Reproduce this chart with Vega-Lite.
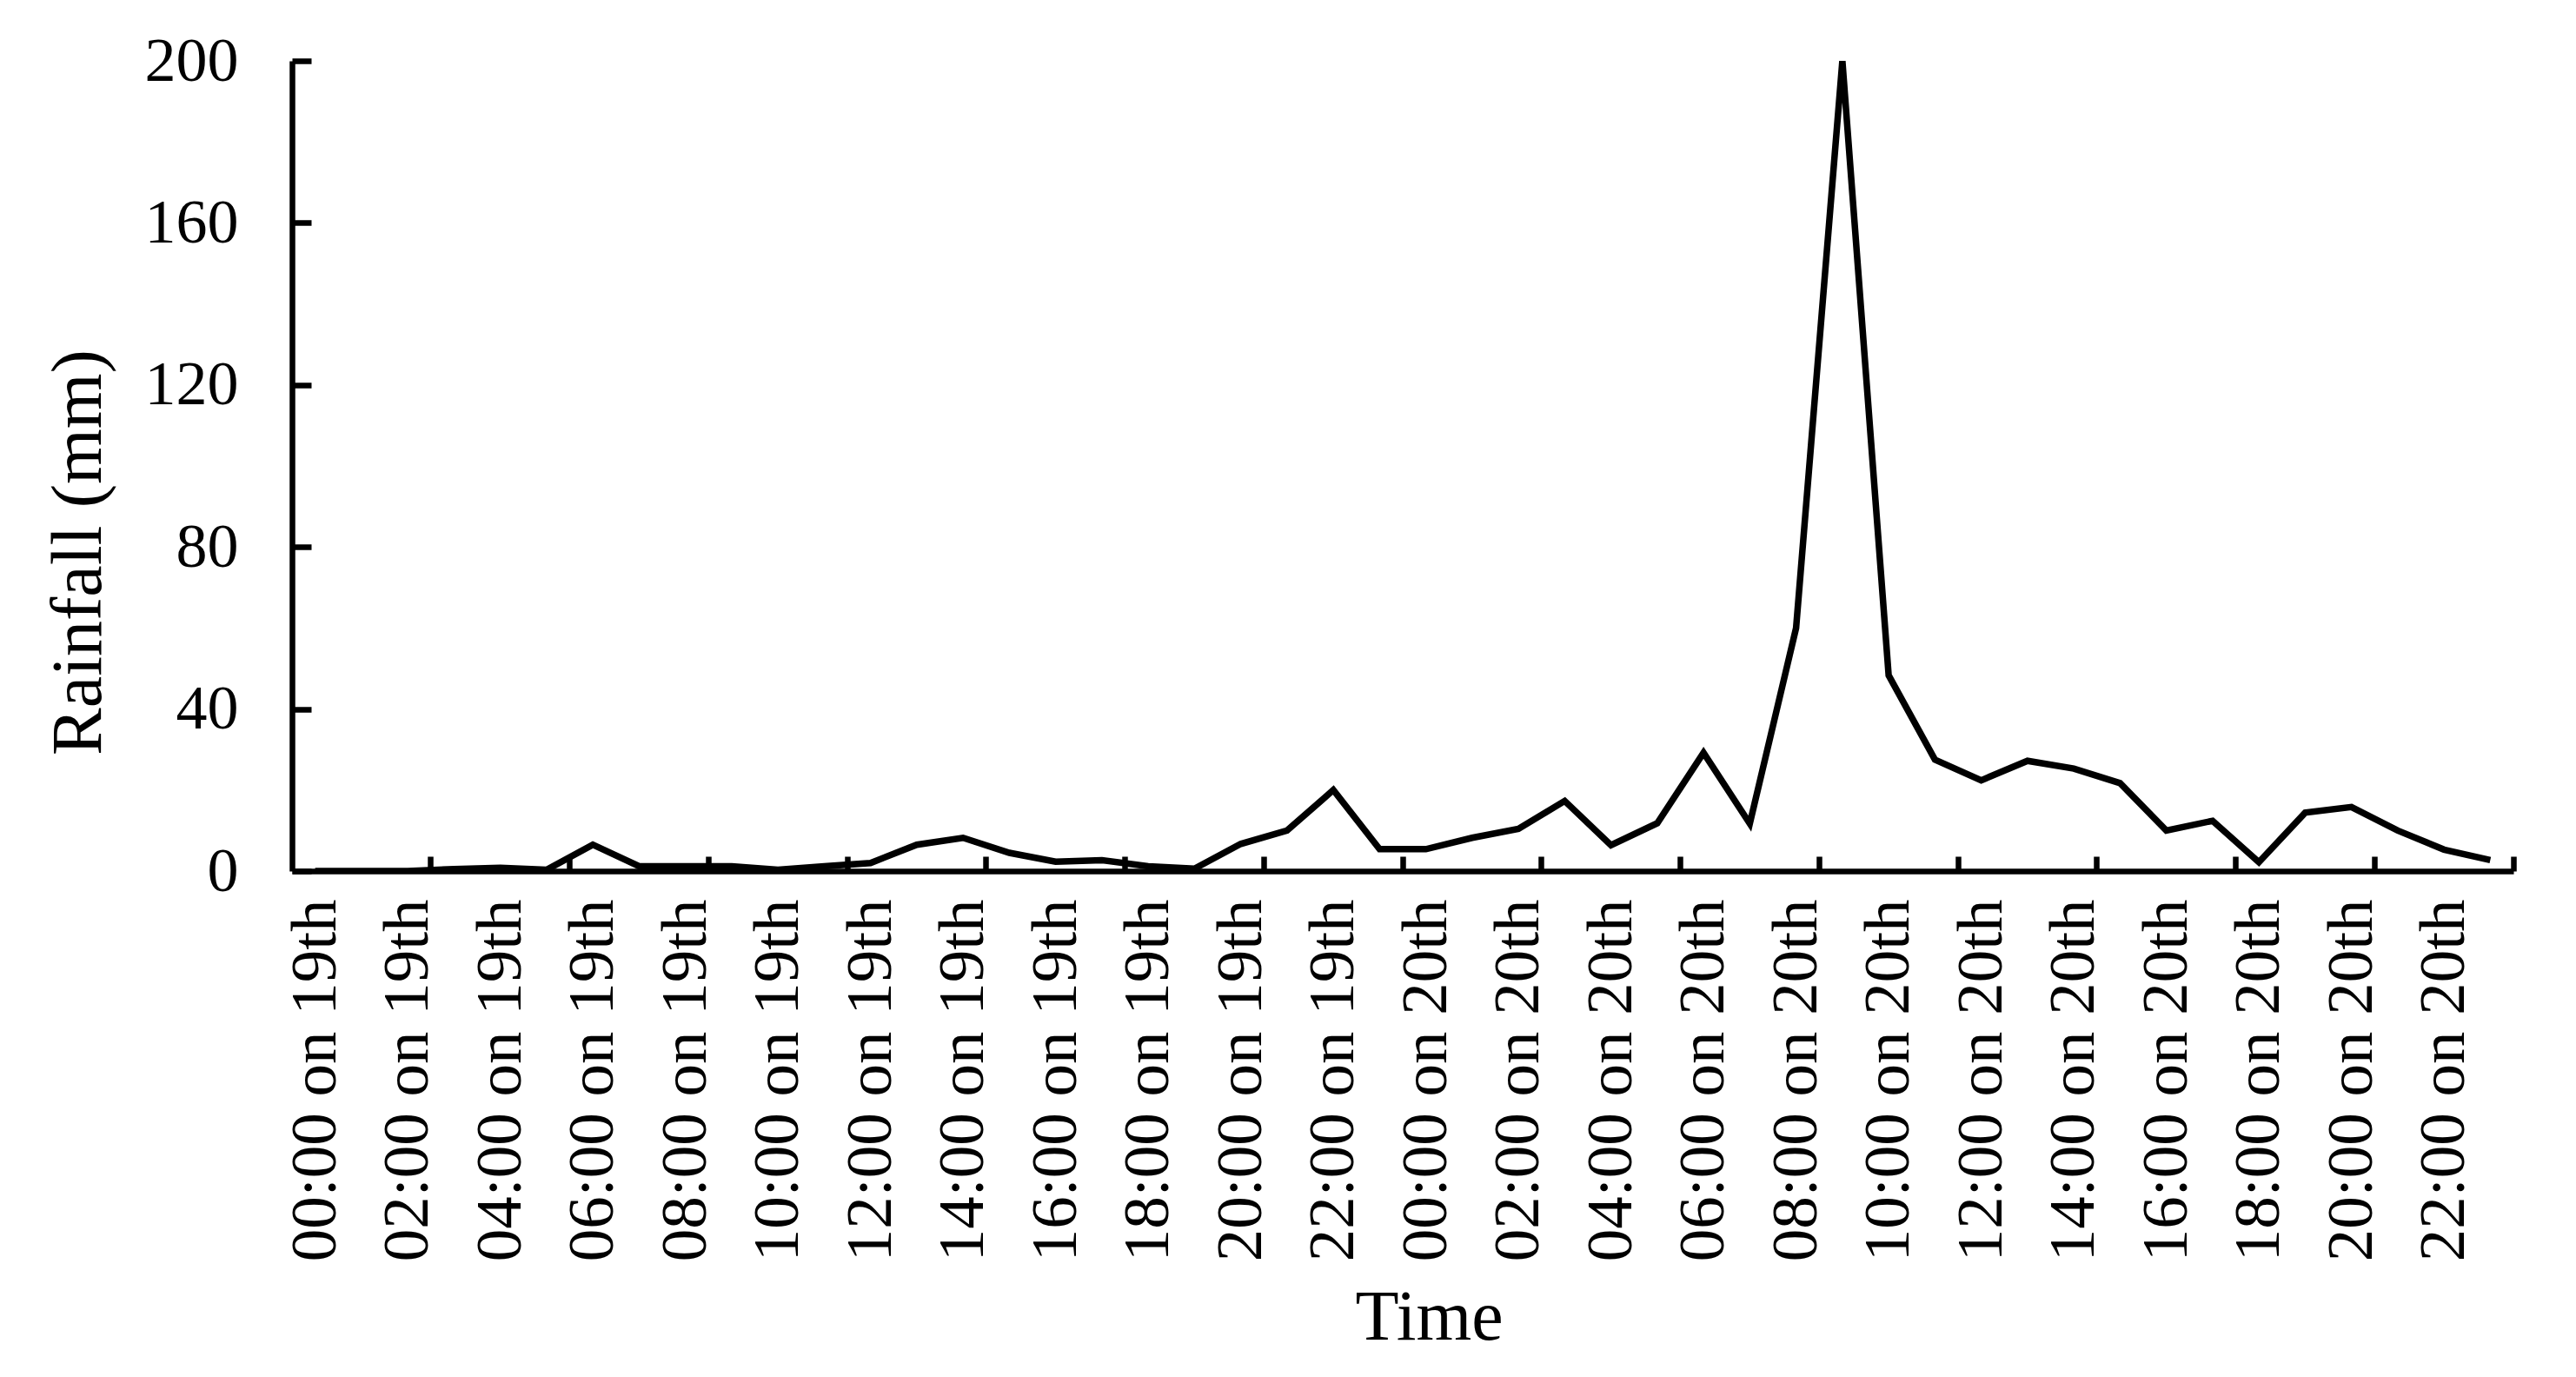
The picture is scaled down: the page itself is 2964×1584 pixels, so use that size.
{
  "$schema": "https://vega.github.io/schema/vega-lite/v6.json",
  "width": 2556,
  "height": 932,
  "autosize": {"type": "none"},
  "padding": {"left": 336, "top": 70, "right": 72, "bottom": 582},
  "background": "white",
  "config": {
    "view": {"stroke": null},
    "axis": {"grid": false, "labelFont": "Liberation Serif", "titleFont": "Liberation Serif", "labelColor": "black", "titleColor": "black", "domainColor": "black", "tickColor": "black", "titleFontWeight": "normal"}
  },
  "data": {
    "values": [
      {"time": "00:00 on 19th", "rainfall": 0},
      {"time": "01:00 on 19th", "rainfall": 0},
      {"time": "02:00 on 19th", "rainfall": 0},
      {"time": "03:00 on 19th", "rainfall": 0.5},
      {"time": "04:00 on 19th", "rainfall": 0.8},
      {"time": "05:00 on 19th", "rainfall": 0.3},
      {"time": "06:00 on 19th", "rainfall": 6.5},
      {"time": "07:00 on 19th", "rainfall": 1.2},
      {"time": "08:00 on 19th", "rainfall": 1.2},
      {"time": "09:00 on 19th", "rainfall": 1.2},
      {"time": "10:00 on 19th", "rainfall": 0.3},
      {"time": "11:00 on 19th", "rainfall": 1.2},
      {"time": "12:00 on 19th", "rainfall": 2},
      {"time": "13:00 on 19th", "rainfall": 6.5},
      {"time": "14:00 on 19th", "rainfall": 8.2},
      {"time": "15:00 on 19th", "rainfall": 4.5},
      {"time": "16:00 on 19th", "rainfall": 2.3},
      {"time": "17:00 on 19th", "rainfall": 2.7},
      {"time": "18:00 on 19th", "rainfall": 1.2},
      {"time": "19:00 on 19th", "rainfall": 0.6},
      {"time": "20:00 on 19th", "rainfall": 6.7},
      {"time": "21:00 on 19th", "rainfall": 10},
      {"time": "22:00 on 19th", "rainfall": 20},
      {"time": "23:00 on 19th", "rainfall": 5.4},
      {"time": "00:00 on 20th", "rainfall": 5.4},
      {"time": "01:00 on 20th", "rainfall": 8.2},
      {"time": "02:00 on 20th", "rainfall": 10.4},
      {"time": "03:00 on 20th", "rainfall": 17.3},
      {"time": "04:00 on 20th", "rainfall": 6.4},
      {"time": "05:00 on 20th", "rainfall": 11.8},
      {"time": "06:00 on 20th", "rainfall": 29.2},
      {"time": "07:00 on 20th", "rainfall": 11.7},
      {"time": "08:00 on 20th", "rainfall": 60},
      {"time": "09:00 on 20th", "rainfall": 200},
      {"time": "10:00 on 20th", "rainfall": 48.3},
      {"time": "11:00 on 20th", "rainfall": 27.5},
      {"time": "12:00 on 20th", "rainfall": 22.4},
      {"time": "13:00 on 20th", "rainfall": 27.2},
      {"time": "14:00 on 20th", "rainfall": 25.3},
      {"time": "15:00 on 20th", "rainfall": 21.7},
      {"time": "16:00 on 20th", "rainfall": 10},
      {"time": "17:00 on 20th", "rainfall": 12.4},
      {"time": "18:00 on 20th", "rainfall": 2.2},
      {"time": "19:00 on 20th", "rainfall": 14.4},
      {"time": "20:00 on 20th", "rainfall": 15.8},
      {"time": "21:00 on 20th", "rainfall": 10},
      {"time": "22:00 on 20th", "rainfall": 5.3},
      {"time": "23:00 on 20th", "rainfall": 2.7}
    ]
  },
  "resolve": {"axis": {"x": "independent", "y": "independent"}},
  "layer": [
    {
      "mark": {"type": "line", "color": "black", "strokeWidth": 7.5, "clip": true},
      "encoding": {
        "x": {
          "field": "time", "type": "ordinal", "sort": null, "bandPosition": 0.5,
          "scale": {"type": "band", "paddingInner": 0, "paddingOuter": 0},
          "axis": {
            "orient": "bottom",
            "values": ["02:00 on 19th", "05:00 on 19th", "08:00 on 19th", "11:00 on 19th", "14:00 on 19th", "17:00 on 19th", "20:00 on 19th", "23:00 on 19th", "02:00 on 20th", "05:00 on 20th", "08:00 on 20th", "11:00 on 20th", "14:00 on 20th", "17:00 on 20th", "20:00 on 20th", "23:00 on 20th"],
            "bandPosition": 1,
            "labels": false,
            "ticks": true,
            "tickSize": -17,
            "tickWidth": 6.5,
            "domain": true,
            "domainWidth": 6.5,
            "title": null,
            "zindex": 1
          }
        },
        "y": {
          "field": "rainfall", "type": "quantitative",
          "scale": {"domain": [0, 200], "nice": false, "zero": true},
          "axis": {
            "orient": "left",
            "values": [0, 40, 80, 120, 160, 200],
            "labels": false,
            "ticks": true,
            "tickSize": -22,
            "tickWidth": 6.5,
            "domain": true,
            "domainWidth": 6.5,
            "title": null,
            "zindex": 1
          }
        }
      }
    },
    {
      "mark": {"type": "line", "opacity": 0},
      "encoding": {
        "x": {
          "field": "time", "type": "ordinal", "sort": null, "bandPosition": 0.5,
          "axis": {
            "orient": "bottom",
            "values": ["00:00 on 19th", "02:00 on 19th", "04:00 on 19th", "06:00 on 19th", "08:00 on 19th", "10:00 on 19th", "12:00 on 19th", "14:00 on 19th", "16:00 on 19th", "18:00 on 19th", "20:00 on 19th", "22:00 on 19th", "00:00 on 20th", "02:00 on 20th", "04:00 on 20th", "06:00 on 20th", "08:00 on 20th", "10:00 on 20th", "12:00 on 20th", "14:00 on 20th", "16:00 on 20th", "18:00 on 20th", "20:00 on 20th", "22:00 on 20th"],
            "bandPosition": 0.5,
            "ticks": false,
            "domain": false,
            "labelAngle": -90,
            "labelFontSize": 75,
            "labelPadding": 32,
            "labelLimit": 0,
            "labelOverlap": false,
            "labelFlush": false,
            "title": "Time",
            "titleFontSize": 82,
            "titleX": 1308,
            "titleY": 538,
            "titleBaseline": "alphabetic"
          }
        },
        "y": {
          "field": "rainfall", "type": "quantitative",
          "axis": {
            "orient": "left",
            "values": [0, 40, 80, 120, 160, 200],
            "ticks": false,
            "domain": false,
            "labelFontSize": 72,
            "labelPadding": 62,
            "labelFlush": false,
            "labelOverlap": false,
            "title": "Rainfall (mm)",
            "titleFontSize": 82,
            "titleX": -221,
            "titleY": 565,
            "titleBaseline": "alphabetic"
          }
        }
      }
    }
  ]
}
